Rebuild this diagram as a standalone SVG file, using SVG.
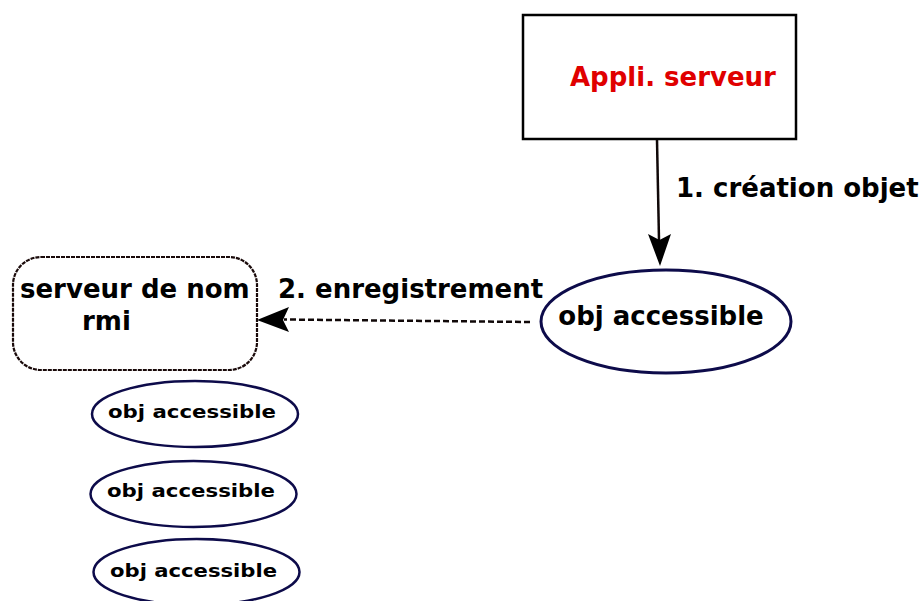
<svg xmlns="http://www.w3.org/2000/svg" width="921" height="601" viewBox="0 0 921 601">
<style>
text{font-family:"DejaVu Sans","Liberation Sans",sans-serif;font-weight:bold;fill:#000}
.big{font-size:26px}
.small{font-size:18px}
.ell{fill:#fff;stroke:#0d0b4a}
.conn{stroke:#100808;fill:none}
</style>
<rect width="921" height="601" fill="#fff"/>
<g id="appli">
<rect x="523" y="15" width="273" height="124" fill="#fff" stroke="#000" stroke-width="2.5"/>
<text class="big" x="570" y="86" style="fill:#e00000">Appli. serveur</text>
</g>
<g id="serveur-nom">
<rect x="13" y="257" width="244" height="113" rx="28" ry="28" fill="#fff" stroke="#1a0a0a" stroke-width="2.2" stroke-dasharray="4,1"/>
<text class="big" x="20" y="298">serveur de nom</text>
<text class="big" x="82" y="330">rmi</text>
</g>
<g id="obj-main">
<ellipse class="ell" cx="666" cy="321.5" rx="125" ry="51.5" stroke-width="3"/>
<text class="big" x="661" y="325" text-anchor="middle">obj accessible</text>
</g>
<g id="obj1">
<ellipse class="ell" cx="195" cy="414" rx="103" ry="33" stroke-width="2.5"/>
<text class="small" x="108" y="418" textLength="168" lengthAdjust="spacingAndGlyphs">obj accessible</text>
</g>
<g id="obj2">
<ellipse class="ell" cx="193.5" cy="494" rx="103" ry="33" stroke-width="2.5"/>
<text class="small" x="107" y="497" textLength="168" lengthAdjust="spacingAndGlyphs">obj accessible</text>
</g>
<g id="obj3">
<ellipse class="ell" cx="196.5" cy="572" rx="103" ry="33" stroke-width="2.5"/>
<text class="small" x="110" y="577" textLength="167" lengthAdjust="spacingAndGlyphs">obj accessible</text>
</g>
<g id="connectors">
<line class="conn" x1="657" y1="140" x2="659" y2="240" stroke-width="2.5"/>
<path d="M648,234 L660,266 L671,234 L659.5,240 Z" fill="#000"/>
<text class="big" x="676" y="197">1. création objet</text>
<line class="conn" x1="530" y1="322" x2="284" y2="319.5" stroke-width="2.5" stroke-dasharray="6,3"/>
<path d="M257,320 L289,307 L283,320 L289,332 Z" fill="#000"/>
<text class="big" x="278" y="298">2. enregistrement</text>
</g>
</svg>
